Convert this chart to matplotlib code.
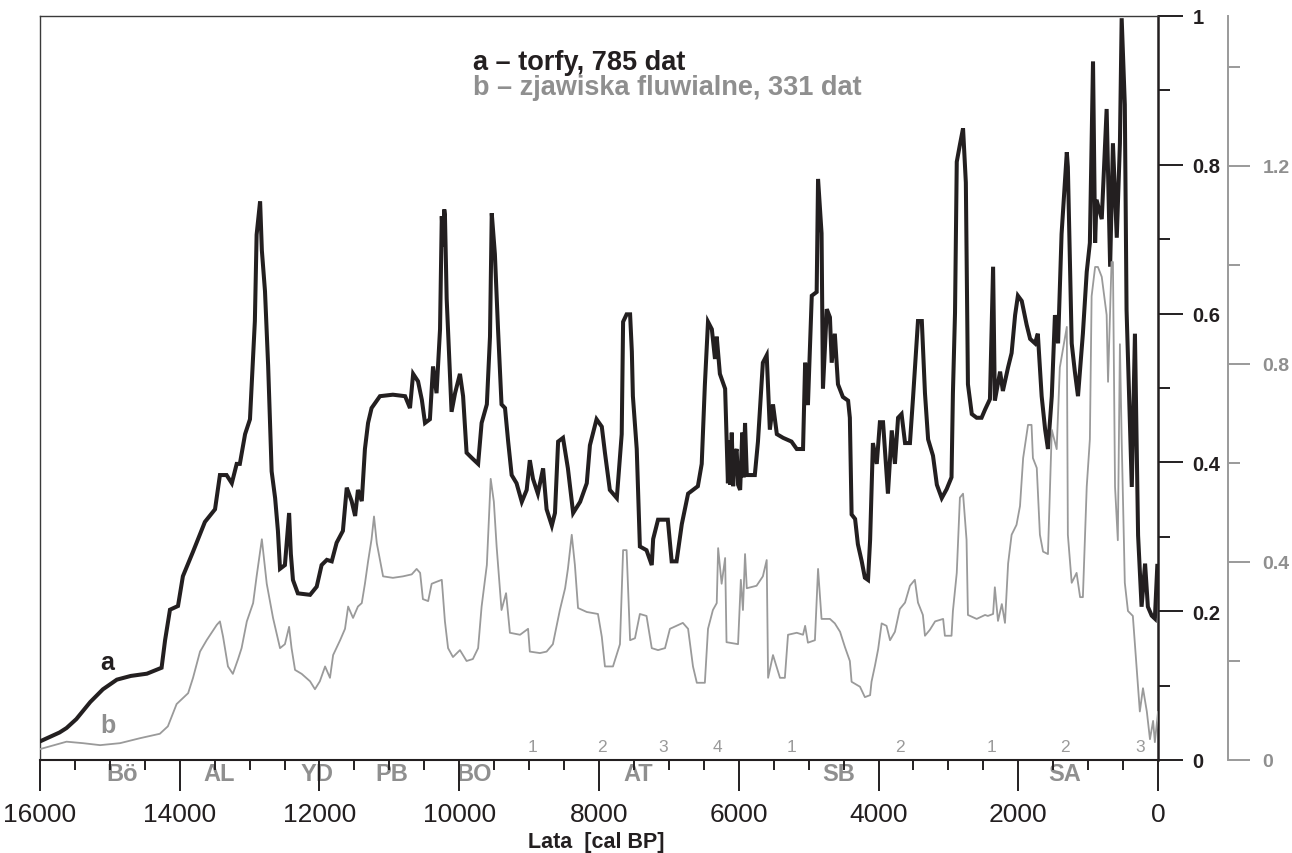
import matplotlib
matplotlib.use('Agg')
import matplotlib.pyplot as plt
from matplotlib.ticker import MultipleLocator, FixedLocator, FuncFormatter
import matplotlib.transforms as mtransforms

plt.rcParams['font.family'] = ['Liberation Sans', 'DejaVu Sans']

# ---------------- data ----------------
# a - torfy (peat), left/black scale 0..1
a_years = [16000, 15860, 15720, 15620, 15480, 15280, 15100, 14900, 14700, 14470, 14260, 14210, 14140,
           14025, 13955, 13810, 13640, 13495,
           13425, 13330, 13255, 13185, 13140, 13065, 12995, 12950, 12925, 12900, 12850, 12825, 12780,
           12735, 12685, 12635, 12595, 12565, 12495, 12435, 12410, 12380, 12310, 12135, 12040, 11970,
           11895, 11825, 11755, 11665, 11610, 11540, 11490, 11450, 11395, 11350, 11305, 11255, 11135,
           10950, 10775, 10705, 10660, 10590, 10535, 10490, 10420, 10375, 10325, 10275, 10250, 10230,
           10215, 10205,
           10180, 10110, 10060, 9990, 9945, 9895, 9820, 9730, 9680, 9605, 9560, 9535, 9490, 9445, 9395,
           9345, 9300, 9250, 9180, 9105, 9035, 8990, 8945, 8875, 8800, 8750, 8675, 8630, 8585, 8515,
           8445, 8370, 8270, 8175, 8130, 8035, 7960, 7915, 7845, 7745, 7675, 7655, 7605, 7555, 7530,
           7515, 7460, 7415, 7320, 7245, 7225, 7155, 7015, 6960, 6890, 6815, 6725, 6585, 6530, 6485,
           6440, 6385, 6340, 6315, 6270, 6195, 6155, 6140, 6120, 6100, 6080, 6060, 6030, 6010, 5980,
           5950, 5930, 5910, 5885, 5770, 5725, 5655, 5600, 5555, 5510, 5455, 5365, 5245, 5170, 5080,
           5050, 5010, 4955, 4885, 4865, 4815, 4795, 4740, 4695, 4670, 4625, 4580, 4510, 4435, 4410,
           4385, 4335, 4295, 4240, 4195, 4150, 4120, 4080, 4025, 3980, 3935, 3865, 3810, 3765, 3720,
           3670, 3620, 3550, 3505, 3435, 3380, 3335, 3290, 3220, 3165, 3095, 3025, 2955, 2935, 2905,
           2880, 2835, 2790, 2750, 2720, 2665, 2595, 2525, 2475, 2405, 2360, 2335, 2260, 2220, 2145,
           2095, 2045, 2005, 1950, 1880, 1830, 1760, 1720, 1665, 1615, 1575, 1520, 1475, 1430, 1380,
           1305, 1290, 1235, 1190, 1145, 1075, 1020, 975, 930, 900, 880, 805, 735, 685, 645, 590, 545,
           520, 475, 450, 375, 330, 285, 235, 185, 145, 90, 45, 10, 0]
a_vals = [0.025, 0.031, 0.037, 0.043, 0.055, 0.078, 0.095, 0.108, 0.113, 0.116, 0.124, 0.161, 0.202,
          0.207, 0.247, 0.280, 0.320, 0.337,
          0.383, 0.383, 0.372, 0.398, 0.398, 0.438, 0.458, 0.544, 0.590, 0.706, 0.751, 0.685, 0.630,
          0.530, 0.388, 0.352, 0.308, 0.257, 0.262, 0.332, 0.277, 0.242, 0.224, 0.222, 0.233, 0.262,
          0.269, 0.267, 0.292, 0.308, 0.366, 0.348, 0.328, 0.363, 0.348, 0.418, 0.453, 0.473, 0.489,
          0.491, 0.489, 0.473, 0.519, 0.509, 0.484, 0.453, 0.458, 0.529, 0.493, 0.579, 0.731, 0.690,
          0.740, 0.733,
          0.620, 0.468, 0.493, 0.519, 0.489, 0.413, 0.406, 0.398, 0.453, 0.478, 0.569, 0.735, 0.680,
          0.579, 0.478, 0.473, 0.428, 0.383, 0.372, 0.347, 0.363, 0.403, 0.378, 0.358, 0.392, 0.337,
          0.315, 0.332, 0.428, 0.433, 0.392, 0.332, 0.347, 0.372, 0.423, 0.458, 0.448, 0.413, 0.363,
          0.352, 0.438, 0.589, 0.599, 0.599, 0.549, 0.489, 0.418, 0.287, 0.282, 0.262, 0.297, 0.323,
          0.323, 0.267, 0.267, 0.317, 0.358, 0.368, 0.398, 0.504, 0.589, 0.579, 0.539, 0.569, 0.519,
          0.499, 0.372, 0.430, 0.370, 0.440, 0.368, 0.410, 0.418, 0.370, 0.363, 0.440, 0.380, 0.453,
          0.383, 0.383, 0.428, 0.534, 0.544, 0.444, 0.478, 0.438, 0.433, 0.428, 0.418, 0.418, 0.534,
          0.477, 0.624, 0.629, 0.781, 0.708, 0.499, 0.606, 0.595, 0.534, 0.573, 0.505, 0.488, 0.483,
          0.460, 0.330, 0.324, 0.290, 0.267, 0.245, 0.242, 0.296, 0.426, 0.398, 0.454, 0.454, 0.358,
          0.443, 0.398, 0.460, 0.465, 0.426, 0.426, 0.488, 0.590, 0.590, 0.493, 0.431, 0.409, 0.370,
          0.352, 0.364, 0.380, 0.493, 0.601, 0.804, 0.827, 0.849, 0.776, 0.505, 0.465, 0.460, 0.460,
          0.471, 0.485, 0.663, 0.483, 0.522, 0.496, 0.528, 0.547, 0.598, 0.624, 0.617, 0.585, 0.566,
          0.560, 0.573, 0.489, 0.444, 0.418, 0.489, 0.598, 0.560, 0.707, 0.817, 0.797, 0.560, 0.522,
          0.489, 0.573, 0.656, 0.695, 0.939, 0.695, 0.753, 0.727, 0.875, 0.663, 0.829, 0.702, 0.829,
          0.997, 0.881, 0.605, 0.367, 0.573, 0.302, 0.206, 0.264, 0.206, 0.194, 0.190, 0.261, 0.261]

# b - zjawiska fluwialne (fluvial events), right/grey scale 0..1.5
b_years = [16000, 15620, 15385, 15140, 14855, 14570, 14285, 14170, 14045, 13880, 13810, 13710, 13615,
           13545, 13470, 13425, 13380, 13310, 13240, 13165, 13115, 13040, 12950, 12900, 12825, 12755,
           12665, 12565, 12495, 12435, 12400, 12350, 12255, 12135, 12065, 11995, 11920, 11850, 11805,
           11705, 11635, 11590, 11520, 11450, 11395, 11350, 11305, 11255, 11220, 11180, 11090, 10950,
           10805, 10680, 10610, 10560, 10520, 10445, 10395, 10325, 10250, 10205, 10160, 10090, 9990,
           9895, 9805, 9730, 9680, 9605, 9550, 9505, 9465, 9395, 9330, 9275, 9130, 9015, 8990, 8845,
           8750, 8660, 8560, 8485, 8445, 8390, 8345, 8300, 8175, 8015, 7960, 7915, 7800, 7700, 7655,
           7605, 7555, 7485, 7415, 7320, 7245, 7155, 7055, 6985, 6800, 6725, 6655, 6600, 6485, 6440,
           6370, 6315, 6295, 6245, 6195, 6175, 6010, 5970, 5940, 5910, 5885, 5745, 5655, 5600, 5580,
           5510, 5410, 5340, 5295, 5170, 5080, 5050, 5010, 4910, 4865, 4815, 4695, 4625, 4550, 4480,
           4410, 4385, 4265, 4195, 4120, 4100, 4050, 4005, 3955, 3885, 3835, 3765, 3695, 3620, 3550,
           3480, 3435, 3365, 3335, 3265, 3190, 3075, 3050, 2955, 2935, 2880, 2835, 2790, 2740, 2720,
           2595, 2475, 2435, 2360, 2335, 2290, 2235, 2190, 2145, 2095, 2025, 1975, 1930, 1860, 1810,
           1790, 1735, 1690, 1645, 1575, 1520, 1450, 1405, 1305, 1290, 1235, 1165, 1115, 1075, 1020,
           975, 950, 900, 860, 805, 735, 715, 665, 645, 615, 575, 545, 520, 475, 430, 360, 305, 260,
           215, 160, 115, 70, 45, 0]
b_vals = [0.022, 0.037, 0.034, 0.030, 0.034, 0.044, 0.053, 0.068, 0.113, 0.135, 0.166, 0.219, 0.242,
          0.257, 0.273, 0.280, 0.249, 0.189, 0.174, 0.204, 0.226, 0.280, 0.317, 0.371, 0.446, 0.356,
          0.287, 0.226, 0.234, 0.269, 0.226, 0.182, 0.174, 0.159, 0.143, 0.159, 0.189, 0.166, 0.212,
          0.242, 0.265, 0.310, 0.287, 0.310, 0.317, 0.356, 0.401, 0.446, 0.492, 0.438, 0.371, 0.368,
          0.371, 0.375, 0.386, 0.378, 0.325, 0.321, 0.356, 0.360, 0.364, 0.280, 0.226, 0.208, 0.222,
          0.200, 0.204, 0.226, 0.310, 0.394, 0.568, 0.522, 0.431, 0.303, 0.337, 0.257, 0.253, 0.265,
          0.219, 0.216, 0.219, 0.234, 0.303, 0.347, 0.386, 0.455, 0.394, 0.307, 0.299, 0.295, 0.249,
          0.189, 0.189, 0.234, 0.424, 0.424, 0.242, 0.246, 0.295, 0.291, 0.226, 0.222, 0.226, 0.265,
          0.277, 0.265, 0.189, 0.156, 0.156, 0.265, 0.303, 0.317, 0.428, 0.356, 0.408, 0.238, 0.234,
          0.364, 0.303, 0.416, 0.347, 0.352, 0.371, 0.404, 0.166, 0.212, 0.166, 0.166, 0.253, 0.257,
          0.253, 0.271, 0.237, 0.242, 0.386, 0.285, 0.285, 0.276, 0.259, 0.228, 0.200, 0.158, 0.148,
          0.127, 0.131, 0.158, 0.191, 0.224, 0.276, 0.271, 0.242, 0.259, 0.305, 0.318, 0.352, 0.364,
          0.318, 0.293, 0.251, 0.263, 0.280, 0.285, 0.251, 0.251, 0.301, 0.378, 0.530, 0.538, 0.445,
          0.293, 0.285, 0.293, 0.291, 0.295, 0.349, 0.281, 0.315, 0.277, 0.397, 0.455, 0.475, 0.513,
          0.610, 0.677, 0.677, 0.610, 0.590, 0.455, 0.421, 0.416, 0.667, 0.628, 0.793, 0.875, 0.455,
          0.358, 0.378, 0.329, 0.329, 0.552, 0.648, 0.937, 0.996, 0.996, 0.976, 0.899, 0.764, 1.006,
          1.006, 0.552, 0.444, 0.840, 0.648, 0.358, 0.301, 0.291, 0.184, 0.098, 0.145, 0.098, 0.042,
          0.079, 0.036, 0.097]

# chronozone labels and sub-zone numbers
period_names = ['Bö', 'AL', 'YD', 'PB', 'BO', 'AT', 'SB', 'SA']
period_pos = [14830, 13440, 12040, 10960, 9780, 7440, 4570, 1330]
sub_names = ['1', '2', '3', '4', '1', '2', '1', '2', '3']
sub_pos = [8945, 7957, 7084, 6312, 5238, 3692, 2376, 1331, 258]

x_major = [0, 2000, 4000, 6000, 8000, 10000, 12000, 14000, 16000]

legend_a = 'a – torfy, 785 dat'
legend_b = 'b – zjawiska fluwialne, 331 dat'
xlabel = 'Lata  [cal BP]'

# ---------------- style ----------------
BLACK = '#231f20'
GREY = '#9a9a9a'
GREY_TXT = '#8f8f8f'

W, H = 1292, 854
fig = plt.figure(figsize=(W / 100, H / 100), dpi=100)
ax = fig.add_axes([40 / W, 1 - 761 / H, 1118 / W, 744 / H])
ax2 = ax.twinx()

ax.set_xlim(16000, 0)
ax.set_ylim(0, 1)
ax2.set_ylim(0, 1.503)

ax.plot(a_years, a_vals, color=BLACK, lw=2.9, solid_joinstyle='miter', zorder=3)
ax2.plot(b_years, b_vals, color=GREY, lw=1.3, zorder=2)

for s in ['left', 'top']:
    ax.spines[s].set_color('#3a3a3a')
    ax.spines[s].set_linewidth(1.0)
ax.spines['bottom'].set_color(BLACK)
ax.spines['bottom'].set_linewidth(1.5)
ax.spines['right'].set_color(BLACK)
ax.spines['right'].set_linewidth(1.8)

# x axis
ax.xaxis.set_major_locator(FixedLocator(x_major))
ax.xaxis.set_minor_locator(MultipleLocator(500))
ax.xaxis.set_major_formatter(FuncFormatter(lambda v, p: f'{int(v)}'))
ax.tick_params(axis='x', which='major', direction='out', length=22, width=1.4,
               color=BLACK, pad=8, labelsize=19, labelcolor=BLACK)
ax.tick_params(axis='x', which='minor', direction='out', length=7, width=1.4, color=BLACK)

# black y axis on the right
ax.yaxis.set_label_position('right')
ax.yaxis.set_major_locator(MultipleLocator(0.2))
ax.yaxis.set_minor_locator(MultipleLocator(0.1))
ax.yaxis.set_major_formatter(FuncFormatter(lambda v, p: f'{v:g}'))
ax.tick_params(axis='y', which='both', left=False, labelleft=False, right=True, labelright=True)
ax.tick_params(axis='y', which='major', direction='out', length=18, width=1.4,
               color=BLACK, pad=7, labelsize=14.5, labelcolor=BLACK)
ax.tick_params(axis='y', which='minor', direction='out', length=8.5, width=1.4, color=BLACK)

# grey y axis
for s in ['left', 'top', 'bottom']:
    ax2.spines[s].set_visible(False)
ax2.spines['right'].set_position(('axes', (1228 - 40) / 1118))
ax2.spines['right'].set_color(GREY)
ax2.spines['right'].set_linewidth(1.4)
ax2.yaxis.set_major_locator(MultipleLocator(0.4))
ax2.yaxis.set_minor_locator(MultipleLocator(0.2))
ax2.yaxis.set_major_formatter(FuncFormatter(lambda v, p: f'{v:g}'))
ax2.tick_params(axis='y', which='major', direction='out', length=16, width=1.4,
                color=GREY, pad=9, labelsize=14, labelcolor=GREY_TXT)
ax2.tick_params(axis='y', which='minor', direction='out', length=8.5, width=1.4, color=GREY)

fig.canvas.draw()
for lab in ax.get_yticklabels(which='major') + ax2.get_yticklabels(which='major'):
    lab.set_fontweight('bold')

# chronozone labels
trans = mtransforms.blended_transform_factory(ax.transData, ax.transAxes)
for name, pos in zip(period_names, period_pos):
    ax.text(pos, -0.018, name, transform=trans, ha='center', va='center', fontsize=17,
            fontweight='bold', color=GREY_TXT, clip_on=False, zorder=1)
for name, pos in zip(sub_names, sub_pos):
    ax.text(pos, 0.0175, name, transform=trans, ha='center', va='center', fontsize=12.5,
            color=GREY, clip_on=False)

# legend texts
ax.text(0.3873, 0.9288, legend_a, transform=ax.transAxes, ha='left', va='baseline',
        fontsize=19.5, fontweight='bold', color=BLACK)
ax.text(0.3873, 0.8952, legend_b, transform=ax.transAxes, ha='left', va='baseline',
        fontsize=19.5, fontweight='bold', color=GREY_TXT)

# curve tags
ax.text(15041, 0.122, 'a', ha='center', va='baseline', fontsize=18, fontweight='bold', color=BLACK)
ax.text(15027, 0.0376, 'b', ha='center', va='baseline', fontsize=18, fontweight='bold', color=GREY_TXT)

fig.text(596 / W, 1 - 843 / H, xlabel, ha='center', va='center', fontsize=15.5,
         fontweight='bold', color=BLACK)

fig.savefig('out.png', dpi=100)
